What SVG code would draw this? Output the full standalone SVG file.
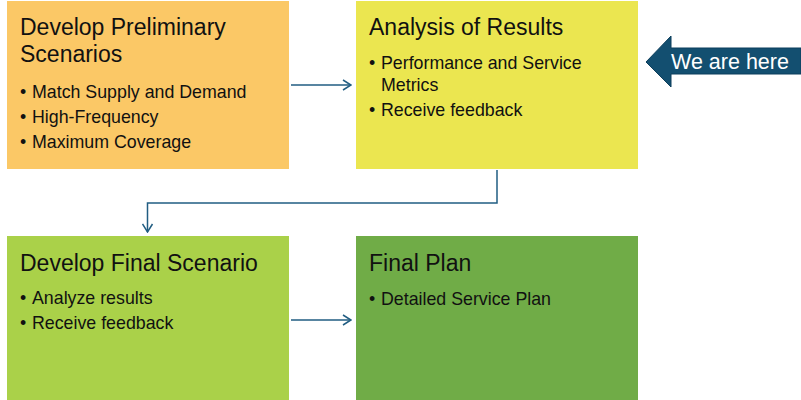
<svg xmlns="http://www.w3.org/2000/svg" width="801" height="400" viewBox="0 0 801 400">
  <style>
    .title { font-family: "Liberation Sans", Arial, sans-serif; font-size: 23px; fill: #111; }
    .item { font-family: "Liberation Sans", Arial, sans-serif; font-size: 17.8px; fill: #111; }
    .conn { fill: none; stroke: #215d82; stroke-width: 1.5; }
    .here { font-family: "Liberation Sans", Arial, sans-serif; font-size: 21.5px; fill: #ffffff; }
  </style>
  <defs>
    <marker id="chev" viewBox="0 0 10 12" refX="9" refY="6" markerWidth="10" markerHeight="12" markerUnits="userSpaceOnUse" orient="auto">
      <path d="M1,1 L9,6 L1,11" fill="none" stroke="#215d82" stroke-width="1.5"/>
    </marker>
  </defs>
  <rect width="801" height="400" fill="#ffffff"/>

  <g id="node-preliminary">
    <rect x="7" y="1" width="282" height="168" fill="#fbc866"/>
    <text class="title" x="20" y="35">Develop Preliminary</text>
    <text class="title" x="20" y="62">Scenarios</text>
    <text class="item" x="20" y="98">•</text><text class="item" x="32" y="98">Match Supply and Demand</text>
    <text class="item" x="20" y="123">•</text><text class="item" x="32" y="123">High-Frequency</text>
    <text class="item" x="20" y="148">•</text><text class="item" x="32" y="148">Maximum Coverage</text>
  </g>

  <g id="node-analysis">
    <rect x="356" y="1" width="282" height="168" fill="#ebe650"/>
    <text class="title" x="369" y="35">Analysis of Results</text>
    <text class="item" x="369" y="69">•</text><text class="item" x="381" y="69">Performance and Service</text>
    <text class="item" x="381" y="91">Metrics</text>
    <text class="item" x="369" y="116">•</text><text class="item" x="381" y="116">Receive feedback</text>
  </g>

  <g id="node-final-scenario">
    <rect x="7" y="236" width="282" height="164" fill="#aad149"/>
    <text class="title" x="20" y="271">Develop Final Scenario</text>
    <text class="item" x="20" y="304">•</text><text class="item" x="32" y="304">Analyze results</text>
    <text class="item" x="20" y="329">•</text><text class="item" x="32" y="329">Receive feedback</text>
  </g>

  <g id="node-final-plan">
    <rect x="356" y="236" width="282" height="164" fill="#70ac47"/>
    <text class="title" x="369" y="271">Final Plan</text>
    <text class="item" x="369" y="305">•</text><text class="item" x="381" y="305">Detailed Service Plan</text>
  </g>

  <g id="we-are-here">
    <polygon points="646,62 671,36 671,48 801,48 801,74 671,74 671,87" fill="#134f70" stroke="#0d3f5c" stroke-width="1"/>
    <text class="here" x="671" y="69">We are here</text>
  </g>

  <g id="connectors">
    <path class="conn" d="M291,85 H351" marker-end="url(#chev)"/>
    <path class="conn" d="M497,170 V203 H147.5 V232" marker-end="url(#chev)"/>
    <path class="conn" d="M291,320 H351" marker-end="url(#chev)"/>
  </g>
</svg>
